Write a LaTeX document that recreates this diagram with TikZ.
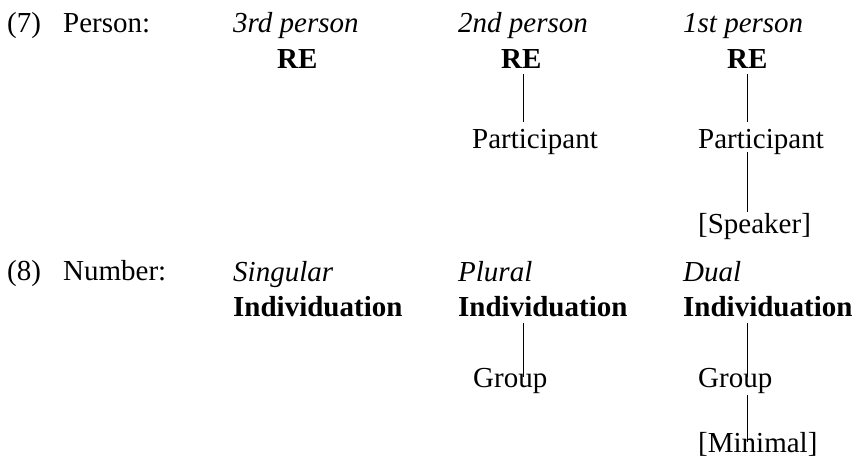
\documentclass[tikz,border=0pt]{standalone}
\usepackage{fontspec}
\setmainfont{Liberation Serif}
\usetikzlibrary{calc}
\tikzset{
  txt/.style={inner sep=0pt, anchor=base west, font=\fontsize{29}{34}\selectfont},
  hdr/.style={txt, font=\fontsize{29}{34}\selectfont\itshape},
  feat/.style={txt, font=\fontsize{29}{34}\selectfont\bfseries},
  conn/.style={line width=0.9pt}
}
\begin{document}
\begin{tikzpicture}[x=1pt,y=-1pt]
\useasboundingbox (0,0) rectangle (859,463);
% axes for the connectors
\coordinate (axA) at (523,0);
\coordinate (axB) at (747,0);
% row (7)
\node[txt] (n7) at (7,32) {(7)};
\node[txt] (person) at (63,32) {Person:};
\node[hdr] (h3) at (233,32) {3rd person};
\node[hdr] (h2) at (458,32) {2nd person};
\node[hdr] (h1) at (683,32) {1st person};
\node[feat] (re1) at (277,68) {RE};
\node[feat] (re2) at (501,68) {RE};
\node[feat] (re3) at (727,68) {RE};
\node[txt] (part2) at (472,148) {Participant};
\node[txt] (part3) at (698,148) {Participant};
\node[txt] (spk) at (698,233) {[Speaker]};
% row (8)
\node[txt] (n8) at (7,280) {(8)};
\node[txt] (number) at (63,280) {Number:};
\node[hdr] (hs) at (233,281) {Singular};
\node[hdr] (hp) at (458,281) {Plural};
\node[hdr] (hd) at (683,281) {Dual};
\node[feat] (ind1) at (233,316) {Individuation};
\node[feat] (ind2) at (458,316) {Individuation};
\node[feat] (ind3) at (683,316) {Individuation};
\node[txt] (grp2) at (473,387) {Group};
\node[txt] (grp3) at (698,387) {Group};
\node[txt] (min) at (698,452) {[Minimal]};
% connectors
\draw[conn] ($(re2.base -| axA)+(0,-6pt)$) -- ($(part2.base -| axA)+(0,26pt)$);
\draw[conn] ($(re3.base -| axB)+(0,-6pt)$) -- ($(part3.base -| axB)+(0,26pt)$);
\draw[conn] ($(part3.base -| axB)+(0,-4pt)$) -- ($(spk.base -| axB)+(0,21pt)$);
\draw[conn] ($(ind2.base -| axA)+(0,-7pt)$) -- ($(grp2.base -| axA)+(0,10pt)$);
\draw[conn] ($(ind3.base -| axB)+(0,-7pt)$) -- ($(grp3.base -| axB)+(0,10pt)$);
\draw[conn] ($(grp3.base -| axB)+(0,-8pt)$) -- ($(min.base -| axB)+(0,10pt)$);
\end{tikzpicture}
\end{document}
